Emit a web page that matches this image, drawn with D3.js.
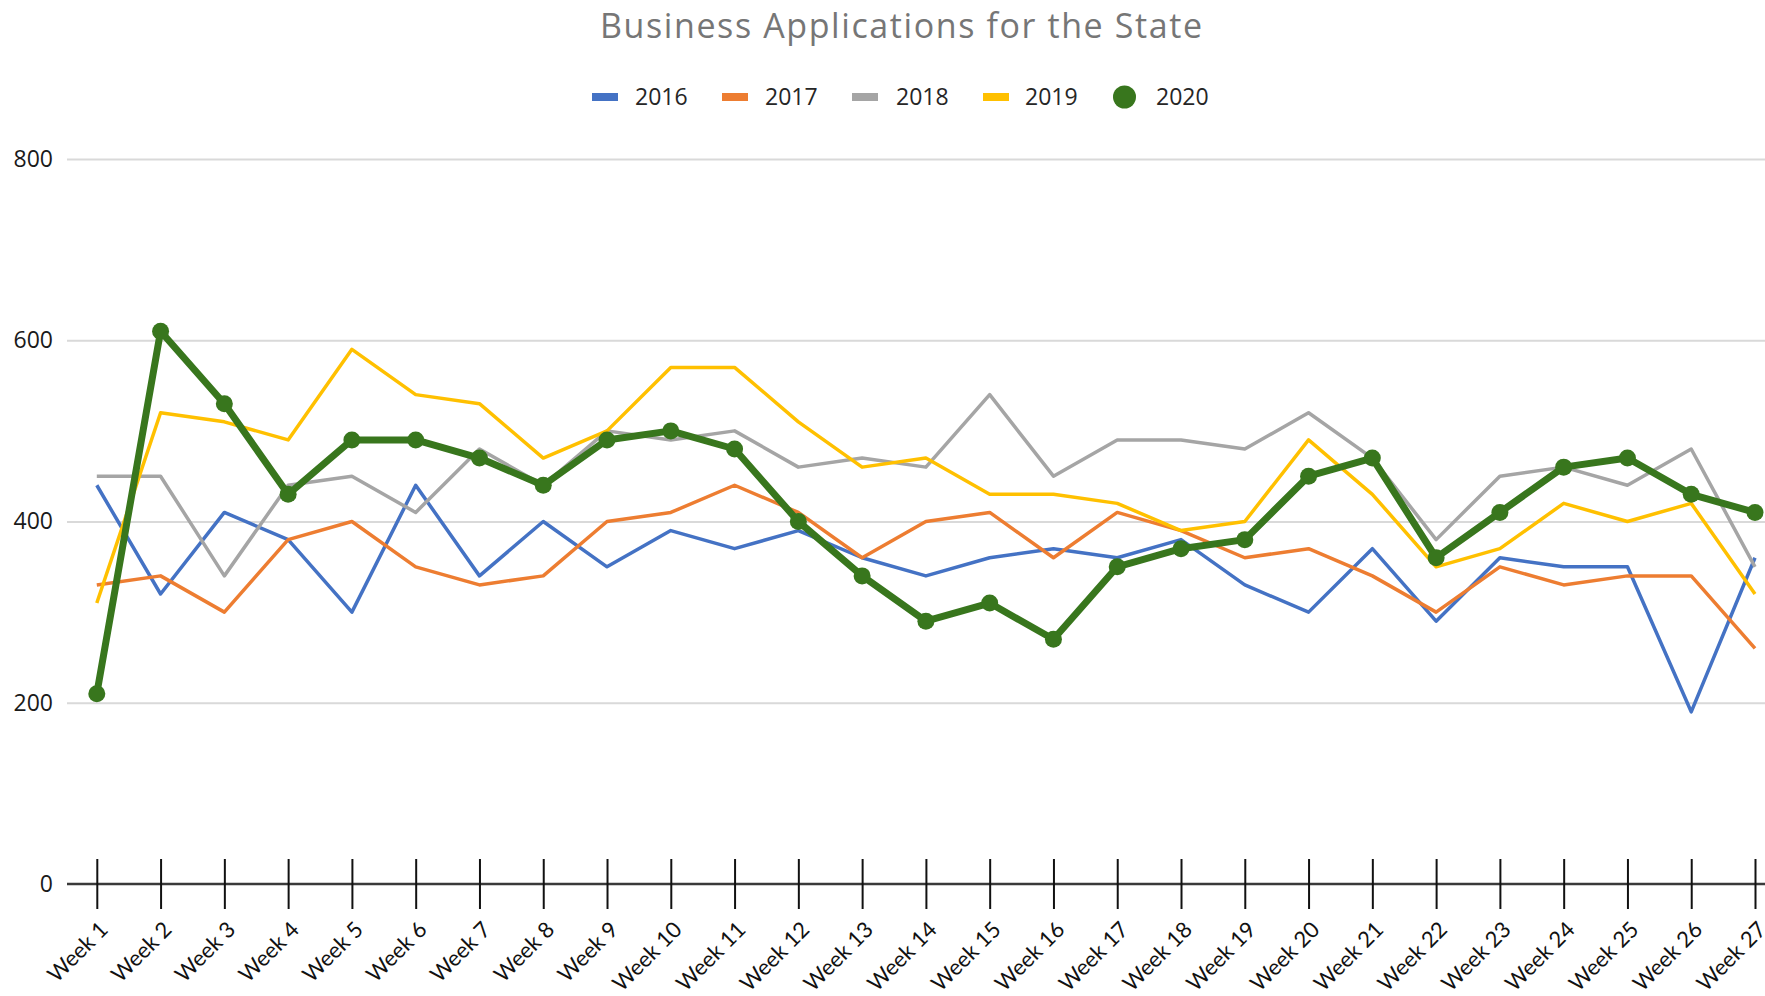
<!DOCTYPE html>
<html>
<head>
<meta charset="utf-8">
<script src="https://cdn.jsdelivr.net/npm/d3@7"></script>
<style>
  html, body { margin: 0; padding: 0; background: #fff; }
  svg { display: block; }
</style>
</head>
<body>
<svg id="chart" width="1765" height="996"></svg>
<script>
const weeks = ["Week 1","Week 2","Week 3","Week 4","Week 5","Week 6","Week 7","Week 8","Week 9","Week 10",
  "Week 11","Week 12","Week 13","Week 14","Week 15","Week 16","Week 17","Week 18","Week 19","Week 20",
  "Week 21","Week 22","Week 23","Week 24","Week 25","Week 26","Week 27"];
const seriesNames = ["2016","2017","2018","2019","2020"];
const v2016 = [440,320,410,380,300,440,340,400,350,390,370,390,360,340,360,370,360,380,330,300,370,290,360,350,350,190,360];
const v2017 = [330,340,300,380,400,350,330,340,400,410,440,410,360,400,410,360,410,390,360,370,340,300,350,330,340,340,260];
const v2018 = [450,450,340,440,450,410,480,440,500,490,500,460,470,460,540,450,490,490,480,520,470,380,450,460,440,480,350];
const v2019 = [310,520,510,490,590,540,530,470,500,570,570,510,460,470,430,430,420,390,400,490,430,350,370,420,400,420,320];
const v2020 = [210,610,530,430,490,490,470,440,490,500,480,400,340,290,310,270,350,370,380,450,470,360,410,460,470,430,410];
const yTicks = [0,200,400,600,800];
const titleText = "Business Applications for the State";

const colors = ["#4472C4","#ED7D31","#A5A5A5","#FFC000","#38761D"];
const allValues = [v2016, v2017, v2018, v2019, v2020];

const svg = d3.select("#chart");

const x = d3.scalePoint().domain(weeks).range([96.8, 1755]);
const y = d3.scaleLinear().domain([0, 800]).range([884, 159]);

// Title
svg.append("text")
  .attr("x", 600).attr("y", 38)
  .attr("textLength", 602).attr("lengthAdjust", "spacing")
  .attr("font-family", "'Open Sans', 'Noto Sans', sans-serif")
  .attr("font-size", 34)
  .attr("fill", "#767676")
  .text(titleText);

// Gridlines + y labels via axisLeft
const yAxis = d3.axisLeft(y).tickValues(yTicks).tickSize(-(1765 - 67)).tickPadding(14);
const gy = svg.append("g").attr("transform", "translate(67,0)").call(yAxis);
gy.select(".domain").remove();
gy.selectAll(".tick line")
  .attr("stroke", d => d === 0 ? "none" : "#D9D9D9")
  .attr("stroke-width", 2);
gy.selectAll(".tick text")
  .attr("font-family", "'Open Sans', 'Noto Sans', sans-serif")
  .attr("font-size", 23)
  .attr("fill", "#1a1a1a");

// X axis
const xAxis = d3.axisBottom(x).tickSizeInner(25).tickSizeOuter(0).tickPadding(0);
const gx = svg.append("g").attr("transform", `translate(0,${y(0)})`).call(xAxis);
gx.select(".domain").attr("d", `M67,0H1765`).attr("stroke", "#3a3a3a").attr("stroke-width", 2.6);
gx.selectAll(".tick line").attr("y1", -25).attr("y2", 25).attr("stroke", "#111").attr("stroke-width", 2);
gx.selectAll(".tick text")
  .attr("font-family", "Lato, 'Open Sans', sans-serif")
  .attr("font-size", 22)
  .attr("fill", "#111")
  .attr("text-anchor", "end")
  .attr("dy", 0)
  .attr("y", 0)
  .attr("transform", "translate(12,47) rotate(-45)");

// Lines
const line = d3.line().x((d, i) => x(weeks[i])).y(d => y(d));
allValues.forEach((vals, k) => {
  svg.append("path")
    .datum(vals)
    .attr("fill", "none")
    .attr("stroke", colors[k])
    .attr("stroke-width", k === 4 ? 7 : 3.5)
    .attr("stroke-linejoin", "round")
    .attr("d", line);
});
svg.append("g").selectAll("circle")
  .data(v2020)
  .join("circle")
  .attr("cx", (d, i) => x(weeks[i]))
  .attr("cy", d => y(d))
  .attr("r", 8.5)
  .attr("fill", colors[4]);

// Legend
const legendSwatchX = [592, 722, 852, 983, 1124.5];
const legendTextX = [635, 765, 896, 1025, 1156];
const lg = svg.append("g");
seriesNames.forEach((name, k) => {
  if (k < 4) {
    lg.append("rect").attr("x", legendSwatchX[k]).attr("y", 93).attr("width", 26).attr("height", 8).attr("fill", colors[k]);
  } else {
    lg.append("circle").attr("cx", legendSwatchX[k]).attr("cy", 97).attr("r", 11.5).attr("fill", colors[k]);
  }
  lg.append("text")
    .attr("x", legendTextX[k]).attr("y", 104.5)
    .attr("font-family", "'Open Sans', 'Noto Sans', sans-serif")
    .attr("font-size", 23)
    .attr("fill", "#262626")
    .text(name);
});
</script>
</body>
</html>
